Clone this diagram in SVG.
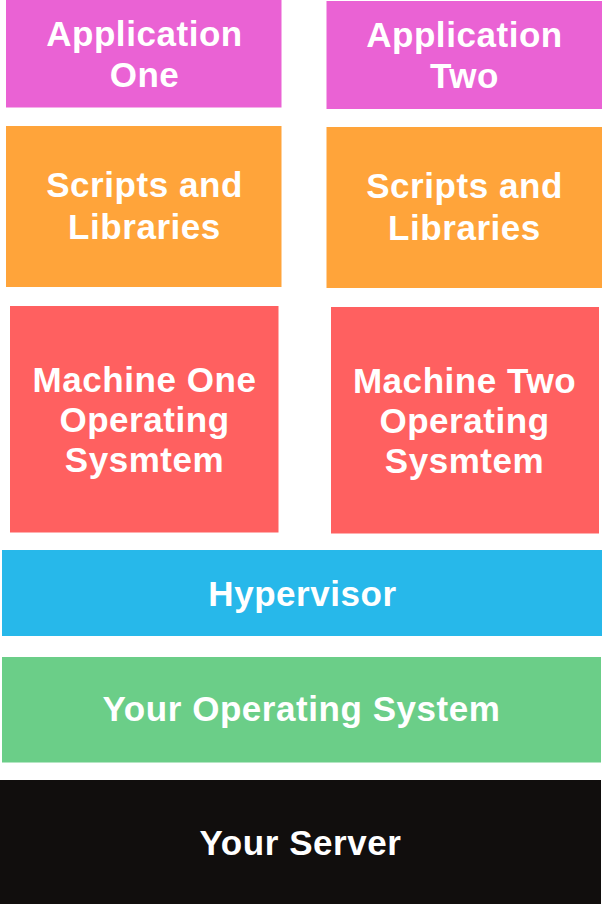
<svg xmlns="http://www.w3.org/2000/svg" width="602" height="906" viewBox="0 0 602 906">
  <style>
    text { font-family: "Liberation Sans", Arial, Helvetica, sans-serif; font-weight: bold; font-size: 35px; letter-spacing: 0.55px; fill: #ffffff; text-anchor: middle; }
    .app { fill: #EA62D4; }
    .lib { fill: #FFA43A; }
    .vm { fill: #FF6060; }
    .hyp { fill: #27B8EA; }
    .os { fill: #6BCE88; }
    .hw { fill: #110E0D; }
  </style>
  <rect width="602" height="906" fill="#ffffff"/>

  <!-- Left stack: first virtual machine -->
  <g id="app-one">
    <rect class="app" x="6" y="0" width="275.5" height="107.5"/>
    <text x="144.5" y="46">Application</text>
    <text x="144.5" y="87">One</text>
  </g>
  <g id="libs-one">
    <rect class="lib" x="6" y="126" width="275.5" height="161"/>
    <text x="144.5" y="197">Scripts and</text>
    <text x="144.5" y="239">Libraries</text>
  </g>
  <g id="guest-os-one">
    <rect class="vm" x="10" y="306" width="268.5" height="226.5"/>
    <text x="144.5" y="392">Machine One</text>
    <text x="144.5" y="432">Operating</text>
    <text x="144.5" y="472">Sysmtem</text>
  </g>

  <!-- Right stack: second virtual machine -->
  <g id="app-two">
    <rect class="app" x="326.5" y="1" width="275.5" height="108"/>
    <text x="464.5" y="47">Application</text>
    <text x="464.5" y="88">Two</text>
  </g>
  <g id="libs-two">
    <rect class="lib" x="326.5" y="127" width="275.5" height="161"/>
    <text x="464.5" y="198">Scripts and</text>
    <text x="464.5" y="240">Libraries</text>
  </g>
  <g id="guest-os-two">
    <rect class="vm" x="331" y="307" width="268" height="226.5"/>
    <text x="464.5" y="393">Machine Two</text>
    <text x="464.5" y="433">Operating</text>
    <text x="464.5" y="473">Sysmtem</text>
  </g>

  <!-- Shared layers -->
  <g id="hypervisor">
    <rect class="hyp" x="2" y="550" width="600" height="86"/>
    <text x="302.5" y="606">Hypervisor</text>
  </g>
  <g id="host-os">
    <rect class="os" x="2" y="657" width="599" height="105.5"/>
    <text x="301.5" y="721">Your Operating System</text>
  </g>
  <g id="server">
    <rect class="hw" x="0" y="780" width="601" height="124"/>
    <text x="300.5" y="855">Your Server</text>
  </g>

  <g id="connectors"/>
</svg>
